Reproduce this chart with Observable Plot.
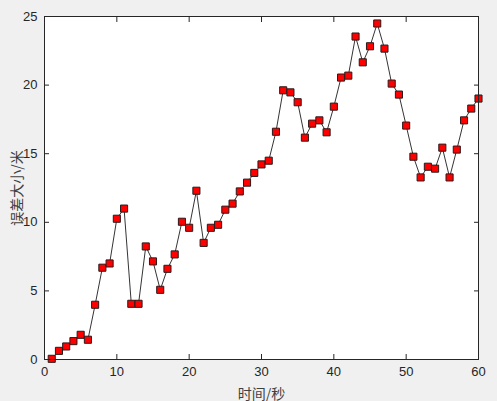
<!DOCTYPE html>
<html><head><meta charset="utf-8">
<script src="https://cdn.jsdelivr.net/npm/d3@7"></script>
<script src="https://cdn.jsdelivr.net/npm/@observablehq/plot@0.6"></script>
<style>
html,body{margin:0;padding:0;background:#f0f0f0;}
</style>
</head><body>
<div id="chart"></div>
<script>
const time = d3.range(1, 61);
const error = [0.05,0.63,0.95,1.34,1.8,1.44,3.99,6.69,7.0,10.26,
  11.0,4.06,4.06,8.24,7.15,5.08,6.61,7.66,10.04,9.6,
  12.3,8.5,9.6,9.82,10.92,11.36,12.25,12.89,13.6,14.22,
  14.49,16.6,19.62,19.47,18.75,16.17,17.19,17.43,16.56,18.43,
  20.55,20.69,23.54,21.66,22.83,24.49,22.66,20.11,19.31,17.05,
  14.78,13.27,14.05,13.91,15.44,13.27,15.3,17.43,18.29,19.02];
const xTicks = [0,10,20,30,40,50,60];
const yTicks = [0,5,10,15,20,25];
const xLabel = "时间/秒";
const yLabel = "误差大小/米";

const data = time.map((t, i) => ({t, e: error[i]}));
const ink = "#262626";

const chart = Plot.plot({
  width: 497, height: 401,
  marginLeft: 44, marginRight: 19, marginTop: 16, marginBottom: 42,
  style: {background: "#f0f0f0", fontFamily: "'Liberation Sans', Arial, sans-serif", fontSize: "13px", color: ink},
  x: {domain: [0, 60]},
  y: {domain: [0, 25]},
  marks: [
    Plot.frame({fill: "white", stroke: null}),
    Plot.line(data, {x: "t", y: "e", stroke: "#000", strokeWidth: 0.8}),
    Plot.dot(data, {x: "t", y: "e", symbol: "square", r: 4, fill: "#ff0000", stroke: "#2a1a1a", strokeWidth: 1}),
    Plot.axisX({anchor: "bottom", ticks: xTicks, tickSize: -5, tickPadding: 12, stroke: ink, fill: ink,
      label: xLabel, labelAnchor: "center", labelArrow: "none", labelOffset: 39, fontSize: 13}),
    Plot.axisX({anchor: "top", ticks: xTicks, tickSize: -5, tickFormat: () => "", label: null, stroke: ink}),
    Plot.axisY({anchor: "left", ticks: yTicks, tickSize: -5, tickPadding: 12, stroke: ink, fill: ink,
      label: yLabel, labelAnchor: "center", labelArrow: "none", labelOffset: 32, fontSize: 13}),
    Plot.axisY({anchor: "right", ticks: yTicks, tickSize: -5, tickFormat: () => "", label: null, stroke: ink}),
    Plot.frame({stroke: ink, strokeWidth: 1})
  ]
});
document.getElementById("chart").appendChild(chart);
// style axis labels (CJK)
chart.querySelectorAll("g[aria-label='x-axis label'] text, g[aria-label='y-axis label'] text").forEach(t => {
  t.textContent = t.textContent.replace(/\s*[→↑←↓]\s*/g, "");
  t.setAttribute("font-family", "'Noto Sans CJK SC', sans-serif");
  t.setAttribute("font-size", "14");
  t.setAttribute("fill", "#404040");
});
</script>
</body></html>
